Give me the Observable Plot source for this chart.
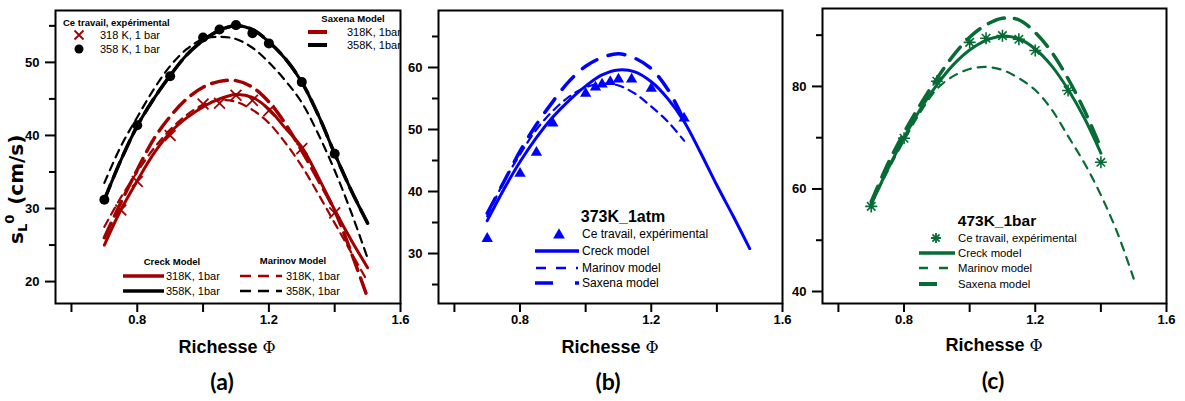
<!DOCTYPE html>
<html>
<head>
<meta charset="utf-8">
<script src="https://cdn.jsdelivr.net/npm/d3@7"></script>
<script src="https://cdn.jsdelivr.net/npm/@observablehq/plot@0.6"></script>
<style>
  body { margin: 0; background: white; }
  #root { position: relative; width: 1185px; height: 401px; background: white; overflow: hidden; }
  .panel { position: absolute; top: 0; }
</style>
</head>
<body>
<div id="root"></div>
<script>
// ---------------- DATA ----------------
// Panel (a): 318 K and 358 K, 1 bar
const phiA = [0.7,0.75,0.8,0.85,0.9,0.95,1.0,1.05,1.1,1.15,1.2,1.25,1.3,1.35,1.4,1.45,1.5];
const creck318   = [25.0,29.8,33.8,37.5,40.4,42.4,43.9,45.0,45.6,45.2,43.6,41.0,38.4,34.3,29.8,25.7,21.9];
const creck358   = [31.2,36.6,41.3,45.0,48.2,51.0,53.0,54.4,55.0,54.5,52.8,50.5,47.3,42.8,37.5,32.5,28.0];
const marinov318 = [27.5,31.5,35.0,38.2,40.8,42.8,44.2,44.8,44.6,43.5,41.7,39.0,35.8,32.0,28.0,24.0,20.0];
const marinov358 = [33.5,38.5,42.5,46.3,49.5,51.8,53.2,53.5,53.2,52.0,50.0,47.5,44.5,40.2,35.2,29.5,23.2];
const saxena318  = [26.0,30.8,35.3,39.5,42.6,45.0,46.6,47.4,47.5,46.6,44.6,41.6,37.9,33.9,29.7,24.0,17.8];
const saxena358  = [31.2,36.6,41.3,45.0,48.2,51.0,53.0,54.4,55.0,54.5,52.8,50.5,47.3,42.8,37.5,32.5,28.0];
const phiExp318 = [0.75,0.8,0.9,1.0,1.05,1.1,1.15,1.2,1.3,1.4];
const sExp318   = [29.8,33.7,40.0,44.3,44.4,45.5,44.8,43.4,38.2,29.4];
const phiExp358 = [0.7,0.8,0.9,1.0,1.05,1.1,1.15,1.2,1.3,1.4];
const sExp358   = [31.2,41.4,48.1,53.4,54.5,55.1,54.0,52.6,47.3,37.5];

// Panel (b): 373 K, 1 atm
const phiB  = [0.7,0.75,0.8,0.85,0.9,0.95,1.0,1.05,1.1,1.15,1.2,1.25,1.3,1.35,1.4,1.45,1.5];
const creck373 = [35.3,40.3,44.8,48.7,52.0,54.7,57.0,58.8,59.6,59.3,57.7,55.0,51.3,46.3,41.0,36.0,30.8];
const phiB2 = [0.7,0.75,0.8,0.85,0.9,0.95,1.0,1.05,1.1,1.15,1.2,1.25,1.3];
const marinov373 = [36.0,41.5,46.0,50.0,53.0,55.3,56.8,57.4,57.1,55.8,53.7,51.3,48.2];
const saxena373  = [36.5,41.5,46.5,50.8,54.5,57.8,60.2,61.6,62.2,61.5,59.8,56.5,51.5];
const phiExp373 = [0.7,0.8,0.85,0.9,1.0,1.03,1.05,1.075,1.1,1.14,1.2,1.3];
const sExp373   = [32.4,42.9,46.3,51.0,55.8,56.8,57.3,57.7,58.1,58.1,56.6,51.8];

// Panel (c): 473 K, 1 bar
const phiC  = [0.7,0.75,0.8,0.85,0.9,0.95,1.0,1.05,1.1,1.15,1.2,1.25,1.3,1.35,1.4];
const creck473  = [57.0,63.8,70.0,75.6,80.3,84.2,87.1,89.0,89.8,89.3,87.3,84.0,79.4,73.8,67.0];
const saxena473 = [57.5,64.8,71.0,76.5,81.5,86.0,89.6,92.0,93.3,93.0,90.5,86.7,81.5,75.3,68.0];
const phiC2 = [0.7,0.75,0.8,0.85,0.9,0.95,1.0,1.05,1.1,1.15,1.2,1.25,1.3,1.35,1.4,1.45,1.5];
const marinov473 = [57.0,63.5,69.5,75.0,79.5,82.0,83.4,83.8,83.2,81.6,79.3,75.5,70.3,65.0,58.8,51.5,42.5];
const phiExp473 = [0.7,0.8,0.9,1.0,1.05,1.1,1.15,1.2,1.3,1.4];
const sExp473   = [56.6,69.9,81.0,88.6,89.4,89.9,89.2,87.0,79.2,65.2];

// Tick values
const xTicks = [0.6,0.8,1.0,1.2,1.4,1.6];
const xLabeled = [0.8,1.2,1.6];
const yMajorA = [20,30,40,50], yMinorA = [25,35,45,55];
const yMajorB = [30,40,50,60], yMinorB = [25,35,45,55,65];
const yMajorC = [40,60,80],    yMinorC = [50,70,90];

// ---------------- STYLE ----------------
const RED = "#a10000", BLACK = "#000000", BLUE = "#0000ff", GREEN = "#066b35";
const FONT = "'Liberation Sans', Arial, sans-serif";
const rows = (xs, ys) => xs.map((x, i) => ({phi: x, s: ys[i]}));

const star8 = {
  draw(ctx, size) {
    const r = Math.sqrt(size / Math.PI);
    for (let k = 0; k < 4; ++k) {
      const a = k * Math.PI / 4;
      ctx.moveTo(r * Math.cos(a), r * Math.sin(a));
      ctx.lineTo(-r * Math.cos(a), -r * Math.sin(a));
    }
  }
};

function panel({left, width, ml, mt, yDomain, yMajor, yMinor, marks}) {
  const p = Plot.plot({
    width, height: 335,
    marginLeft: ml, marginRight: 2, marginTop: mt, marginBottom: 32,
    x: {domain: [0.5515, 1.6], label: null},
    y: {domain: yDomain, label: null},
    style: {fontFamily: FONT, fontSize: "13px", fontWeight: "bold", color: "black", background: "transparent", overflow: "visible"},
    marks: [
      ...marks,
      Plot.frame({stroke: "black", strokeWidth: 2}),
      Plot.axisX({ticks: xTicks, tickSize: 9, tickPadding: 2, strokeWidth: 2, label: null,
        tickFormat: d => xLabeled.some(v => Math.abs(v - d) < 1e-9) ? d.toFixed(1) : ""}),
      Plot.axisY({ticks: yMajor, tickSize: 10, tickPadding: 6, strokeWidth: 2, label: null, tickFormat: d => String(d)}),
      Plot.axisY({ticks: yMinor, tickSize: 6, strokeWidth: 2, label: null, tickFormat: () => ""})
    ]
  });
  const div = document.createElement("div");
  div.className = "panel";
  div.style.left = left + "px";
  div.appendChild(p);
  document.getElementById("root").appendChild(div);
}

const LC = "catmull-rom";

// Panel (a)
panel({
  left: 0, width: 402, ml: 55, mt: 10, yDomain: [17.0, 57.1], yMajor: yMajorA, yMinor: yMinorA,
  marks: [
    Plot.line(rows(phiA, saxena358), {x: "phi", y: "s", stroke: BLACK, strokeWidth: 3.5, strokeDasharray: "16,8", curve: LC}),
    Plot.line(rows(phiA, marinov358), {x: "phi", y: "s", stroke: BLACK, strokeWidth: 2.2, strokeDasharray: "8,6", curve: LC}),
    Plot.line(rows(phiA, creck358), {x: "phi", y: "s", stroke: BLACK, strokeWidth: 3, curve: LC}),
    Plot.line(rows(phiA, saxena318), {x: "phi", y: "s", stroke: RED, strokeWidth: 3.5, strokeDasharray: "16,8", curve: LC}),
    Plot.line(rows(phiA, marinov318), {x: "phi", y: "s", stroke: RED, strokeWidth: 2.2, strokeDasharray: "8,6", curve: LC}),
    Plot.line(rows(phiA, creck318), {x: "phi", y: "s", stroke: RED, strokeWidth: 3, curve: LC}),
    Plot.dot(rows(phiExp358, sExp358), {x: "phi", y: "s", r: 5, fill: BLACK, stroke: "none"}),
    Plot.dot(rows(phiExp318, sExp318), {x: "phi", y: "s", r: 5, symbol: "times", stroke: RED, fill: "none", strokeWidth: 1.8})
  ]
});

// Panel (b)
panel({
  left: 380, width: 404, ml: 58, mt: 10, yDomain: [21.94, 69.19], yMajor: yMajorB, yMinor: yMinorB,
  marks: [
    Plot.line(rows(phiB2, saxena373), {x: "phi", y: "s", stroke: BLUE, strokeWidth: 3.5, strokeDasharray: "17,12", curve: LC}),
    Plot.line(rows(phiB2, marinov373), {x: "phi", y: "s", stroke: BLUE, strokeWidth: 2.2, strokeDasharray: "8,6", curve: LC}),
    Plot.line(rows(phiB, creck373), {x: "phi", y: "s", stroke: BLUE, strokeWidth: 3, curve: LC}),
    Plot.dot(rows(phiExp373, sExp373), {x: "phi", y: "s", r: 4.2, symbol: "triangle", fill: BLUE, stroke: "none"})
  ]
});

// Panel (c)
panel({
  left: 764, width: 404, ml: 58, mt: 8, yDomain: [37.66, 95.2], yMajor: yMajorC, yMinor: yMinorC,
  marks: [
    Plot.line(rows(phiC, saxena473), {x: "phi", y: "s", stroke: GREEN, strokeWidth: 3.5, strokeDasharray: "17,10", curve: LC}),
    Plot.line(rows(phiC2, marinov473), {x: "phi", y: "s", stroke: GREEN, strokeWidth: 2.2, strokeDasharray: "8,7", curve: LC}),
    Plot.line(rows(phiC, creck473), {x: "phi", y: "s", stroke: GREEN, strokeWidth: 3, curve: LC}),
    Plot.dot(rows(phiExp473, sExp473), {x: "phi", y: "s", r: 6, symbol: star8, stroke: GREEN, fill: "none", strokeWidth: 1.6})
  ]
});

// ---------------- OVERLAY: legends, titles, labels ----------------
const ov = d3.select("#root").append("svg")
  .attr("width", 1185).attr("height", 401)
  .style("position", "absolute").style("left", "0px").style("top", "0px")
  .style("pointer-events", "none");

function txt(x, y, s, {size = 11, weight = "normal", anchor = "start", family = FONT} = {}) {
  return ov.append("text").attr("x", x).attr("y", y).attr("dy", "0.35em")
    .attr("font-family", family).attr("font-size", size).attr("font-weight", weight)
    .attr("text-anchor", anchor).attr("fill", "black").text(s);
}
function sw(x1, x2, y, color, w, dash) {
  const l = ov.append("line").attr("x1", x1).attr("x2", x2).attr("y1", y).attr("y2", y)
    .attr("stroke", color).attr("stroke-width", w);
  if (dash) l.attr("stroke-dasharray", dash);
  return l;
}

// Panel (a) legends
txt(63, 23, "Ce travail, expérimental", {size: 9.5, weight: "bold"});
ov.append("path").attr("d", "M74.5,30.5L83.5,39.5M83.5,30.5L74.5,39.5").attr("stroke", RED).attr("stroke-width", 1.8).attr("fill", "none");
ov.append("circle").attr("cx", 79).attr("cy", 49).attr("r", 4.5).attr("fill", BLACK);
txt(100, 35, "318 K, 1 bar", {size: 11});
txt(100, 49, "358 K, 1 bar", {size: 11});

txt(353, 19, "Saxena Model", {size: 9.5, weight: "bold", anchor: "middle"});
sw(308, 327, 32, RED, 4);
sw(308, 327, 45, BLACK, 4);
txt(347, 32, "318K, 1bar", {size: 11});
txt(347, 45, "358K, 1bar", {size: 11});

txt(172, 262, "Creck Model", {size: 9.5, weight: "bold", anchor: "middle"});
sw(123, 164, 276, RED, 3.5);
sw(123, 164, 291, BLACK, 3.5);
txt(166, 276, "318K, 1bar", {size: 11});
txt(166, 291, "358K, 1bar", {size: 11});

txt(293, 261, "Marinov Model", {size: 9.5, weight: "bold", anchor: "middle"});
sw(240, 282, 276, RED, 2.5, "11,7");
sw(240, 282, 291, BLACK, 2.5, "11,7");
txt(286, 276, "318K, 1bar", {size: 11});
txt(286, 291, "358K, 1bar", {size: 11});

// Panel (b) legend
txt(623, 216, "373K_1atm", {size: 16, weight: "bold", anchor: "middle"});
ov.append("path").attr("d", d3.symbol(d3.symbolTriangle, 60)()).attr("transform", "translate(559,235)").attr("fill", BLUE);
txt(582, 234, "Ce travail, expérimental", {size: 12});
sw(535, 579, 251, BLUE, 3.5);
txt(582, 251, "Creck model", {size: 12});
sw(536, 578, 268, BLUE, 2.5, "10,10");
txt(582, 268, "Marinov model", {size: 12});
sw(535, 579, 283, BLUE, 3.5, "18,22");
txt(582, 283, "Saxena model", {size: 12});

// Panel (c) legend
txt(997, 221, "473K_1bar", {size: 15.5, weight: "bold", anchor: "middle"});
ov.append("path").attr("d", (() => { const p = d3.path(); star8.draw(p, Math.PI * 25); return p.toString(); })())
  .attr("transform", "translate(936,238)").attr("stroke", GREEN).attr("stroke-width", 1.8).attr("fill", "none");
txt(958, 238, "Ce travail, expérimental", {size: 11.3});
sw(919, 955, 253, GREEN, 3.5);
txt(958, 253, "Creck model", {size: 11.3});
sw(919, 949, 268, GREEN, 2.5, "9,11");
txt(958, 268, "Marinov model", {size: 11.3});
sw(919, 937, 284, GREEN, 4);
txt(958, 284, "Saxena model", {size: 11.3});

// Axis titles
function xTitle(cx, cy) {
  const t = ov.append("text").attr("x", cx).attr("y", cy).attr("dy", "0.35em").attr("text-anchor", "middle")
    .attr("font-family", FONT).attr("font-size", 18).attr("font-weight", "bold").attr("fill", "black");
  t.append("tspan").text("Richesse ");
  t.append("tspan").attr("font-family", "'DejaVu Serif', serif").attr("font-weight", "normal").attr("font-size", 16).text("Φ");
}
xTitle(227, 347);
xTitle(610, 347);
xTitle(994, 345);

// Y axis title (panel a)
const yt = ov.append("text").attr("transform", "translate(23,244) rotate(-90)").attr("text-anchor", "start")
  .attr("font-family", "'DejaVu Sans', sans-serif").attr("font-size", 20).attr("font-weight", "bold").attr("fill", "black");
yt.append("tspan").text("s");
yt.append("tspan").attr("font-size", 13).attr("dy", 4).text("L");
yt.append("tspan").attr("font-size", 13).attr("dy", -13).text("0");
yt.append("tspan").attr("dy", 9).attr("dx", 3).text(" (cm/s)");

// Panel labels
const PL = "Lato, 'Open Sans', sans-serif";
txt(222, 382, "(a)", {size: 23, weight: "bold", anchor: "middle", family: PL});
txt(608, 382, "(b)", {size: 23, weight: "bold", anchor: "middle", family: PL});
txt(993, 381, "(c)", {size: 23, weight: "bold", anchor: "middle", family: PL});
</script>
</body>
</html>
